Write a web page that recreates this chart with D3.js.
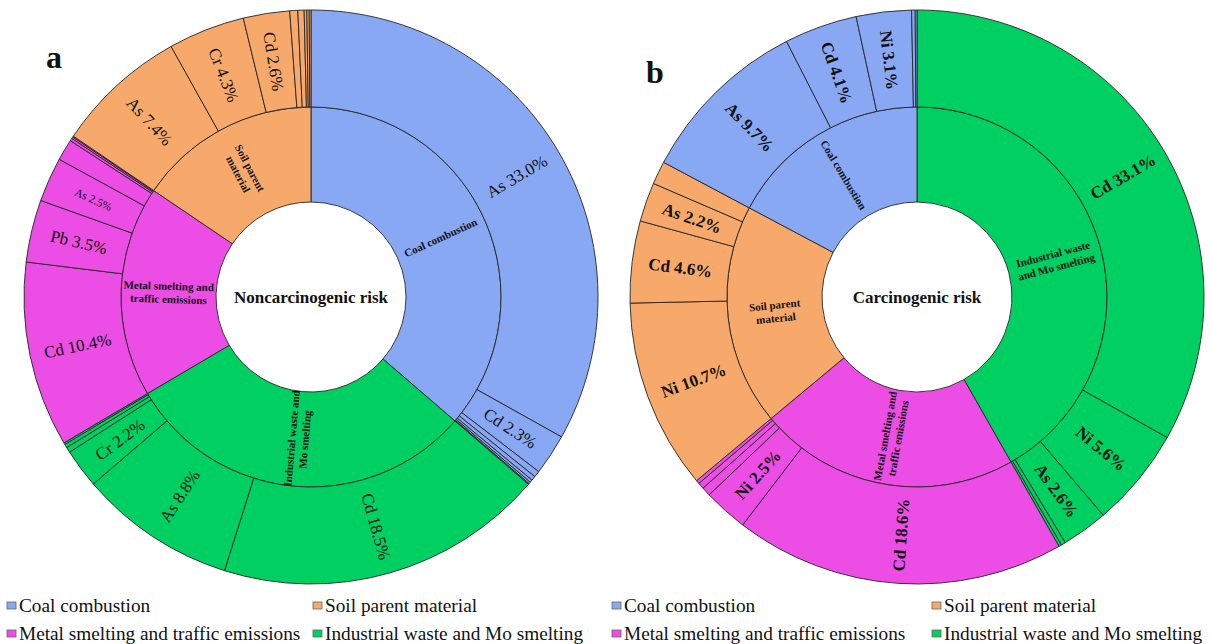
<!DOCTYPE html>
<html>
<head>
<meta charset="utf-8">
<script src="https://cdn.jsdelivr.net/npm/d3@7"></script>
<style>
  body { margin: 0; background: #fff; }
  svg { display: block; }
  text { font-family: "Liberation Serif", "Times New Roman", serif; fill: #111; }
</style>
</head>
<body>
<svg id="chart" width="1211" height="644"></svg>
<script>
// Pollution sources and their colours
const sources = ["Coal combustion", "Soil parent material", "Metal smelting and traffic emissions", "Industrial waste and Mo smelting"];
const sourceColors = ["#89a8f3", "#f7a96b", "#ec4de4", "#00d062"];

// Panel a: noncarcinogenic risk (source order runs clockwise from 12 o'clock)
const orderA = ["Coal combustion", "Industrial waste and Mo smelting", "Metal smelting and traffic emissions", "Soil parent material"];
const metalsA = [
  ["As", "Cd", "Cr", "Pb", "Ni", "Cu", "Zn"],
  ["Cd", "As", "Cr", "Pb", "Ni", "Cu"],
  ["Cd", "Pb", "As", "Cr", "Ni", "Cu", "Zn"],
  ["As", "Cr", "Cd", "Pb", "Ni", "Cu", "Zn", "Hg"]
];
const sharesA = [
  [33.0, 2.3, 0.35, 0.25, 0.15, 0.1, 0.05],
  [18.5, 8.8, 2.2, 0.3, 0.2, 0.1],
  [10.4, 3.5, 2.5, 1.2, 0.15, 0.1, 0.05],
  [7.4, 4.3, 2.6, 0.45, 0.35, 0.15, 0.13, 0.1]
];

// Panel b: carcinogenic risk
const orderB = ["Industrial waste and Mo smelting", "Metal smelting and traffic emissions", "Soil parent material", "Coal combustion"];
const metalsB = [
  ["Cd", "Ni", "As", "Cr", "Pb"],
  ["Cd", "Ni", "As", "Cr", "Pb"],
  ["Ni", "Cd", "As", "Cr"],
  ["As", "Cd", "Ni", "Cr", "Pb"]
];
const sharesB = [
  [33.1, 5.6, 2.6, 0.25, 0.15],
  [18.6, 2.5, 0.5, 0.35, 0.2],
  [10.7, 4.6, 2.2, 1.3],
  [9.7, 4.1, 3.1, 0.2, 0.1]
];

const svg = d3.select("#chart");
const color = d3.scaleOrdinal().domain(sources).range(sourceColors);

function drawSunburst(opt) {
  const root = d3.hierarchy({
    name: opt.title,
    children: opt.order.map((s, i) => ({
      name: s,
      children: opt.metals[i].map((m, j) => ({ name: m, value: opt.shares[i][j] }))
    }))
  }).sum(d => d.value || 0);

  d3.partition().size([2 * Math.PI, 3])(root);

  const radius = d3.scaleLinear().domain([1, 2, 3]).range([95, 190, 287]);
  const arc = d3.arc()
    .startAngle(d => d.x0).endAngle(d => d.x1)
    .innerRadius(d => radius(d.y0)).outerRadius(d => radius(d.y1));

  const total = root.value;
  const g = svg.append("g").attr("transform", `translate(${opt.cx},${opt.cy})`);
  const nodes = root.descendants().filter(d => d.depth > 0);

  g.selectAll("path").data(nodes).join("path")
    .attr("d", arc)
    .attr("fill", d => color(d.depth === 1 ? d.data.name : d.parent.data.name))
    .attr("stroke", "#262626")
    .attr("stroke-width", 0.9);

  const place = d => {
    const a = (d.x0 + d.x1) / 2 * 180 / Math.PI;
    const r = radius((d.y0 + d.y1) / 2);
    return `rotate(${a - 90}) translate(${r},0) rotate(${a < 180 ? 0 : 180})`;
  };

  // source names on the inner ring
  const inner = g.selectAll("text.src").data(root.children).join("text")
    .attr("class", "src")
    .attr("transform", place)
    .attr("text-anchor", "middle")
    .style("font-size", "11px")
    .style("font-weight", "bold");
  inner.each(function (d) {
    const lines = opt.wrap[d.data.name];
    const t = d3.select(this);
    lines.forEach((line, i) => {
      t.append("tspan").attr("x", 0)
        .attr("dy", i === 0 ? `${0.35 - (lines.length - 1) * 0.6}em` : "1.2em")
        .text(line);
    });
  });

  // metal shares on the outer ring
  const leaves = root.leaves().filter(d => d.value / total * 100 >= 2);
  g.selectAll("text.metal").data(leaves).join("text")
    .attr("class", "metal")
    .attr("transform", place)
    .attr("text-anchor", "middle")
    .attr("dy", "0.35em")
    .style("font-size", d => opt.small(d) ? "11.5px" : "17px")
    .style("font-weight", opt.boldLeaves ? "bold" : "normal")
    .text(d => `${d.data.name} ${d.data.value.toFixed(1)}%`);

  g.append("text")
    .attr("text-anchor", "middle").attr("dy", "0.35em")
    .style("font-size", "17px").style("font-weight", "bold")
    .text(opt.title);

  svg.append("text")
    .attr("x", opt.letterX).attr("y", opt.letterY)
    .style("font-size", "32px").style("font-weight", "bold")
    .text(opt.letter);

  // legend
  const legendItems = [
    { name: sources[0], col: 0, row: 0 },
    { name: sources[1], col: 1, row: 0 },
    { name: sources[2], col: 0, row: 1 },
    { name: sources[3], col: 1, row: 1 }
  ];
  const lg = svg.append("g");
  legendItems.forEach(it => {
    const x = opt.legendX[it.col];
    const y = 606 + it.row * 28;
    lg.append("rect")
      .attr("x", x).attr("y", y - 4).attr("width", 9).attr("height", 7)
      .attr("fill", color(it.name)).attr("stroke", "#666").attr("stroke-width", 0.8);
    lg.append("text")
      .attr("x", x + 12).attr("y", y + 6)
      .style("font-size", "19.3px")
      .text(it.name);
  });
}

drawSunburst({
  title: "Noncarcinogenic risk", letter: "a", letterX: 46, letterY: 68,
  cx: 311, cy: 297,
  order: orderA, metals: metalsA, shares: sharesA,
  boldLeaves: false,
  small: d => d.parent.data.name === "Metal smelting and traffic emissions" && d.data.name === "As",
  wrap: {
    "Coal combustion": ["Coal combustion"],
    "Industrial waste and Mo smelting": ["Industrial waste and", "Mo smelting"],
    "Metal smelting and traffic emissions": ["Metal smelting and", "traffic emissions"],
    "Soil parent material": ["Soil parent", "material"]
  },
  legendX: [7, 313]
});

drawSunburst({
  title: "Carcinogenic risk", letter: "b", letterX: 646, letterY: 83,
  cx: 917, cy: 297,
  order: orderB, metals: metalsB, shares: sharesB,
  boldLeaves: true,
  small: () => false,
  wrap: {
    "Coal combustion": ["Coal combustion"],
    "Industrial waste and Mo smelting": ["Industrial waste", "and Mo smelting"],
    "Metal smelting and traffic emissions": ["Metal smelting and", "traffic emissions"],
    "Soil parent material": ["Soil parent", "material"]
  },
  legendX: [612, 932]
});
</script>
</body>
</html>
